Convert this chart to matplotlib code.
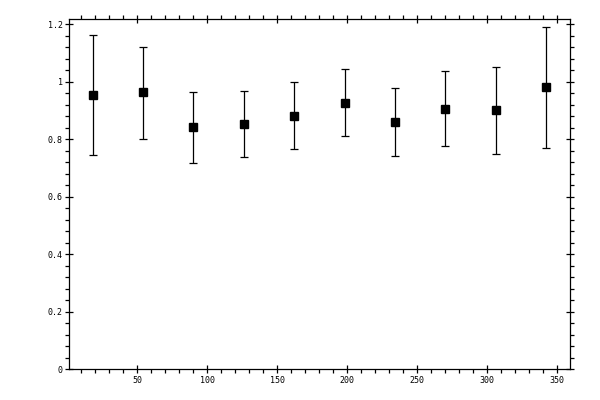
import matplotlib
matplotlib.use("Agg")
import matplotlib.pyplot as plt
from matplotlib.ticker import MultipleLocator, FuncFormatter
import numpy as np

# Data
x_vals = [18, 54, 90, 126, 162, 198, 234, 270, 306, 342]
y_vals = [0.953, 0.963, 0.842, 0.852, 0.880, 0.928, 0.859, 0.904, 0.901, 0.981]
y_upper = [1.164, 1.121, 0.963, 0.968, 0.998, 1.046, 0.977, 1.037, 1.053, 1.192]
y_lower = [0.745, 0.800, 0.717, 0.739, 0.765, 0.810, 0.741, 0.776, 0.748, 0.770]

x = np.array(x_vals)
y = np.array(y_vals)
err = np.array([y - np.array(y_lower), np.array(y_upper) - y])

fig = plt.figure(figsize=(6, 4), dpi=100)
ax = fig.add_axes([0.1155, 0.0765, 0.835, 0.8753])

ax.errorbar(x, y, yerr=err, fmt='s', color='black', ms=5.2,
            elinewidth=0.9, capsize=3.2, capthick=0.9, mec='black', mfc='black')

ax.set_xlim(1.4, 359.3)
ax.set_ylim(0, 1.2174)

ax.xaxis.set_major_locator(MultipleLocator(50))
ax.xaxis.set_minor_locator(MultipleLocator(10))
ax.yaxis.set_major_locator(MultipleLocator(0.2))
ax.yaxis.set_minor_locator(MultipleLocator(0.04))

def yfmt(v, pos):
    s = f"{v:.1f}"
    if s.endswith(".0"):
        s = s[:-2]
    return s
ax.yaxis.set_major_formatter(FuncFormatter(yfmt))
ax.xaxis.set_major_formatter(FuncFormatter(lambda v, p: f"{int(round(v))}"))

for sp in ax.spines.values():
    sp.set_linewidth(0.9)

ax.tick_params(which='major', direction='inout', length=5.5, width=0.9,
               top=True, right=True, labeltop=False, labelright=False,
               labelsize=6, pad=2)
ax.tick_params(which='minor', direction='out', length=2.6, width=0.9,
               top=True, right=True)
for lab in ax.get_xticklabels() + ax.get_yticklabels():
    lab.set_family('DejaVu Sans Mono')

fig.savefig('out.png', dpi=100)
